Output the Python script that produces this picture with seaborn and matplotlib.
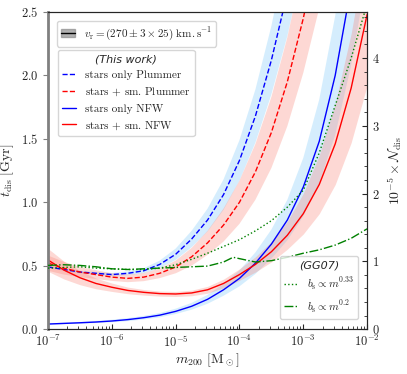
import numpy as np
import seaborn as sns
import matplotlib
matplotlib.use('Agg')
import matplotlib.pyplot as plt
from matplotlib.patches import Patch
from matplotlib.lines import Line2D
from matplotlib.ticker import AutoMinorLocator, LogLocator, NullFormatter

# log10(m200) grid
logm = [-7.0, -6.75, -6.5, -6.25, -6.0, -5.75, -5.5, -5.25, -5.0, -4.75, -4.5,
        -4.25, -4.0, -3.75, -3.5, -3.25, -3.0, -2.75, -2.5, -2.25, -2.0]

# t_dis [Gyr] (this work)
t_plummer_stars = [0.49, 0.47, 0.45, 0.44, 0.43, 0.44, 0.46, 0.51, 0.59, 0.71, 0.86,
                   1.06, 1.33, 1.68, 2.12, 2.65, 3.30, 4.10, 5.00, 6.10, 7.40]
t_plummer_sm = [0.52, 0.48, 0.45, 0.43, 0.41, 0.40, 0.41, 0.44, 0.49, 0.57, 0.68,
                0.82, 1.00, 1.24, 1.55, 1.95, 2.45, 3.05, 3.75, 4.60, 5.60]
t_nfw_stars = [0.04, 0.045, 0.05, 0.056, 0.064, 0.075, 0.09, 0.11, 0.14, 0.18, 0.235,
               0.31, 0.40, 0.52, 0.67, 0.86, 1.12, 1.48, 2.00, 2.70, 3.60]
t_nfw_sm = [0.545, 0.465, 0.405, 0.36, 0.33, 0.305, 0.29, 0.28, 0.277, 0.285, 0.31,
            0.36, 0.43, 0.51, 0.61, 0.74, 0.91, 1.14, 1.46, 1.90, 2.48]

# half width of the v_r band
dt_plummer_stars = [0.01, 0.01, 0.01, 0.01, 0.012, 0.015, 0.02, 0.03, 0.045, 0.065, 0.09,
                    0.12, 0.16, 0.21, 0.27, 0.34, 0.42, 0.52, 0.63, 0.75, 0.90]
dt_plummer_sm = [0.06, 0.05, 0.04, 0.035, 0.03, 0.03, 0.032, 0.038, 0.05, 0.07, 0.095,
                 0.13, 0.17, 0.22, 0.28, 0.35, 0.43, 0.52, 0.62, 0.73, 0.85]
dt_nfw_stars = [0.005, 0.006, 0.007, 0.008, 0.01, 0.012, 0.014, 0.017, 0.021, 0.027, 0.035,
                0.047, 0.063, 0.085, 0.115, 0.16, 0.23, 0.33, 0.47, 0.62, 0.80]
dt_nfw_sm = [0.09, 0.07, 0.055, 0.042, 0.033, 0.026, 0.022, 0.02, 0.02, 0.022, 0.027,
             0.034, 0.045, 0.06, 0.08, 0.11, 0.16, 0.23, 0.32, 0.43, 0.56]

# GG07, 10^-5 x N_dis (right axis)
logm_gg = [-7.0, -6.75, -6.5, -6.25, -6.0, -5.75, -5.5, -5.25, -5.0, -4.75, -4.5,
           -4.25, -4.1, -4.0, -3.75, -3.5, -3.25, -3.0, -2.75, -2.5, -2.25, -2.0]
n_gg_033 = [0.90, 0.91, 0.92, 0.90, 0.89, 0.88, 0.88, 0.90, 0.95, 1.03, 1.12,
            1.22, 1.28, 1.32, 1.45, 1.60, 1.80, 2.05, 2.60, 3.30, 4.00, 4.80]
n_gg_02 = [0.94, 0.95, 0.94, 0.92, 0.89, 0.88, 0.89, 0.90, 0.91, 0.92, 0.93,
           0.99, 1.06, 1.04, 0.99, 1.01, 1.06, 1.12, 1.17, 1.24, 1.34, 1.48]

sns.set_style('ticks')
plt.rcParams['font.family'] = 'serif'
plt.rcParams['font.serif'] = ['cmr10', 'DejaVu Serif']
plt.rcParams['mathtext.fontset'] = 'cm'
plt.rcParams['axes.formatter.use_mathtext'] = True
plt.rcParams['font.size'] = 9

fig = plt.figure(figsize=(4.07, 3.74), dpi=100)
ax = fig.add_axes([0.118, 0.120, 0.784, 0.848])

m = 10 ** np.array(logm)
m_gg = 10 ** np.array(logm_gg)

bands = [
    (t_plummer_stars, dt_plummer_stars, 'lightskyblue', 0.35),
    (t_plummer_sm, dt_plummer_sm, 'salmon', 0.3),
    (t_nfw_stars, dt_nfw_stars, 'lightskyblue', 0.35),
    (t_nfw_sm, dt_nfw_sm, 'salmon', 0.3),
]
for t, dt, c, a in bands:
    t = np.array(t)
    dt = np.array(dt)
    ax.fill_between(m, t - dt, t + dt, color=c, alpha=a, lw=0)

sns.lineplot(x=m, y=t_plummer_stars, ax=ax, color='blue', ls='--', lw=1)
sns.lineplot(x=m, y=t_plummer_sm, ax=ax, color='red', ls='--', lw=1)
sns.lineplot(x=m, y=t_nfw_stars, ax=ax, color='blue', ls='-', lw=1)
sns.lineplot(x=m, y=t_nfw_sm, ax=ax, color='red', ls='-', lw=1)

ax.set_xscale('log')
ax.set_xlim(1e-7, 1e-2)
ax.set_ylim(0, 2.5)
ax.set_yticks([0, 0.5, 1.0, 1.5, 2.0, 2.5])
ax.set_xlabel(r'$m_{200}\ [\mathrm{M}_\odot]$', fontsize=10, labelpad=1)
ax.set_ylabel(r'$t_\mathrm{dis}\ [\mathrm{Gyr}]$', fontsize=10)
ax.yaxis.set_label_coords(-0.1, 0.5)
ax.xaxis.set_major_locator(LogLocator(base=10, numticks=10))
ax.xaxis.set_minor_locator(LogLocator(base=10, subs=np.arange(2, 10), numticks=20))
ax.xaxis.set_minor_formatter(NullFormatter())
ax.tick_params(axis='x', which='both', direction='in', top=False)
ax.tick_params(axis='y', which='both', direction='out', color='gray')
ax.spines['left'].set_color('gray')
ax.spines['left'].set_linewidth(2)

ax2 = ax.twinx()
sns.lineplot(x=m_gg, y=n_gg_033, ax=ax2, color='green', ls=':', lw=1)
sns.lineplot(x=m_gg, y=n_gg_02, ax=ax2, color='green', ls='-.', lw=1)
ax2.set_ylim(0, 4.68)
ax2.set_yticks([0, 1, 2, 3, 4])
ax2.yaxis.set_minor_locator(AutoMinorLocator(5))
ax2.tick_params(axis='y', which='both', direction='in')
ax2.set_ylabel(r'$10^{-5}\times\mathcal{N}_\mathrm{dis}$', fontsize=10, labelpad=4)
ax2.spines['left'].set_visible(False)
ax2.set_xlim(1e-7, 1e-2)

title_font = {'family': 'DejaVu Sans', 'style': 'italic', 'size': 8}

band_handle = (Patch(facecolor='gray', edgecolor='gray', alpha=0.6),
               Line2D([], [], color='black', lw=1))
leg1 = ax.legend([band_handle], [r'$v_\mathrm{r} = (270 \pm 3\times 25)\ \mathrm{km.s}^{-1}$'],
                 loc='upper left', bbox_to_anchor=(0.028, 0.972), borderaxespad=0,
                 handlelength=1.2, fontsize=8)
ax.add_artist(leg1)

h_work = [Line2D([], [], color='blue', ls='--', lw=1),
          Line2D([], [], color='red', ls='--', lw=1),
          Line2D([], [], color='blue', ls='-', lw=1),
          Line2D([], [], color='red', ls='-', lw=1)]
l_work = ['stars only Plummer', r'stars $+$ sm. Plummer',
          'stars only NFW', r'stars $+$ sm. NFW']
ax.legend(h_work, l_work, title='(This work)', title_fontproperties=title_font,
          loc='upper left', bbox_to_anchor=(0.031, 0.88), borderaxespad=0,
          handlelength=1.2, fontsize=8)

h_gg = [Line2D([], [], color='green', ls=':', lw=1),
        Line2D([], [], color='green', ls='-.', lw=1)]
l_gg = [r'$b_\mathrm{s}\propto m^{0.33}$', r'$b_\mathrm{s}\propto m^{0.2}$']
ax2.legend(h_gg, l_gg, title='(GG07)', title_fontproperties=title_font,
           loc='lower right', bbox_to_anchor=(0.972, 0.032), borderaxespad=0,
           handlelength=1.2, fontsize=8)

fig.savefig('out.png', dpi=100)
